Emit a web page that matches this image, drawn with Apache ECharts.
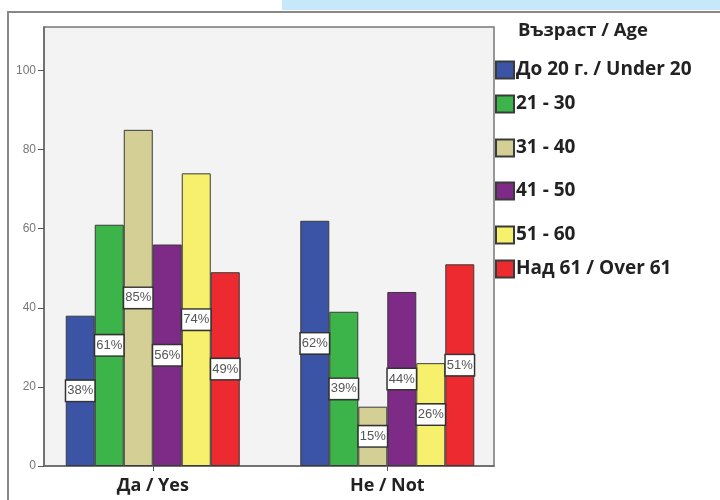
<!DOCTYPE html>
<html>
<head>
<meta charset="utf-8">
<script src="https://cdn.jsdelivr.net/npm/echarts@6/dist/echarts.min.js"></script>
<style>
  html, body { margin: 0; padding: 0; background: #fff; }
  #chart { width: 720px; height: 500px; }
</style>
</head>
<body>
<div id="chart"></div>
<script>
// Answer groups (x positions 0 and 1 on the value axis)
const categories = ['Да / Yes', 'Не / Not'];
const yTicks = [0, 20, 40, 60, 80, 100];

// Age groups and their share (%) per answer
const ageGroups = ['До 20 г. / Under 20', '21 - 30', '31 - 40', '41 - 50', '51 - 60', 'Над 61 / Over 61'];
const under20 = [38, 62];
const age21to30 = [61, 39];
const age31to40 = [85, 15];
const age41to50 = [56, 44];
const age51to60 = [74, 26];
const over61 = [49, 51];
const groupValues = [under20, age21to30, age31to40, age41to50, age51to60, over61];

const colors = ['#3b54a5', '#3cb44a', '#d4cf94', '#7d2b86', '#f6f06c', '#ec2a2f'];
const legendTops = [60, 94, 138, 181, 225, 259];

const chart = echarts.init(document.getElementById('chart'), null, { renderer: 'canvas' });

const series = ageGroups.map((name, i) => ({
  name: name,
  type: 'bar',
  barWidth: 29,
  barGap: '0%',
  data: groupValues[i].map((v, k) => [k, v]),
  itemStyle: { color: colors[i], borderColor: '#3a3a3a', borderWidth: 1 },
  label: {
    show: true,
    position: 'inside',
    formatter: p => p.value[1] + '%',
    color: '#555',
    fontFamily: 'Arial, "Liberation Sans", sans-serif',
    fontSize: 13,
    backgroundColor: '#fff',
    borderColor: '#333',
    borderWidth: 1.5,
    padding: [4, 1, 3, 1]
  }
}));

const legends = ageGroups.map((name, i) => ({
  data: [name],
  left: 495,
  top: legendTops[i],
  padding: 0,
  itemWidth: 18,
  itemHeight: 17,
  icon: 'rect',
  selectedMode: false,
  textStyle: {
    fontFamily: '"Open Sans", sans-serif',
    fontWeight: 'bold',
    fontSize: 19,
    lineHeight: 20,
    color: '#222',
    padding: [0, 0, 0, -3]
  }
}));

chart.setOption({
  animation: false,
  backgroundColor: '#fff',
  title: {
    text: 'Възраст / Age',
    left: 513,
    top: 16,
    textStyle: { fontFamily: '"Open Sans", sans-serif', fontWeight: 'bold', fontSize: 18.5, color: '#222' }
  },
  graphic: [
    { type: 'rect', shape: { x: 282, y: 0, width: 438, height: 10 }, style: { fill: '#c7e8f8' }, z: -1 },
    { type: 'polyline', shape: { points: [[8, 500], [8, 12], [720, 12]] }, style: { stroke: '#888', lineWidth: 2, fill: null }, z: -1 }
  ],
  legend: legends,
  grid: {
    left: 44, top: 27, right: 226, bottom: 34,
    show: true,
    backgroundColor: '#f3f3f3',
    borderColor: '#777',
    borderWidth: 1.5
  },
  xAxis: {
    type: 'value',
    min: -0.4637,
    max: 1.455,
    splitLine: { show: false },
    axisLine: { show: true, onZero: false, lineStyle: { color: '#666', width: 1.5 } },
    axisTick: { show: true, customValues: [0, 1], length: 5, lineStyle: { color: '#555' } },
    axisLabel: {
      customValues: [0, 1],
      formatter: v => categories[Math.round(v)],
      margin: 11,
      fontFamily: '"Open Sans", sans-serif',
      fontWeight: 'bold',
      fontSize: 18,
      color: '#222'
    }
  },
  yAxis: {
    type: 'value',
    min: 0,
    max: 111,
    splitLine: { show: false },
    axisLine: { show: true, onZero: false, lineStyle: { color: '#666', width: 1.5 } },
    axisTick: { show: true, customValues: yTicks, length: 6, lineStyle: { color: '#555' } },
    axisLabel: {
      customValues: yTicks,
      margin: 8,
      fontFamily: 'Arial, "Liberation Sans", sans-serif',
      fontSize: 12,
      color: '#777'
    }
  },
  series: series
});
</script>
</body>
</html>
